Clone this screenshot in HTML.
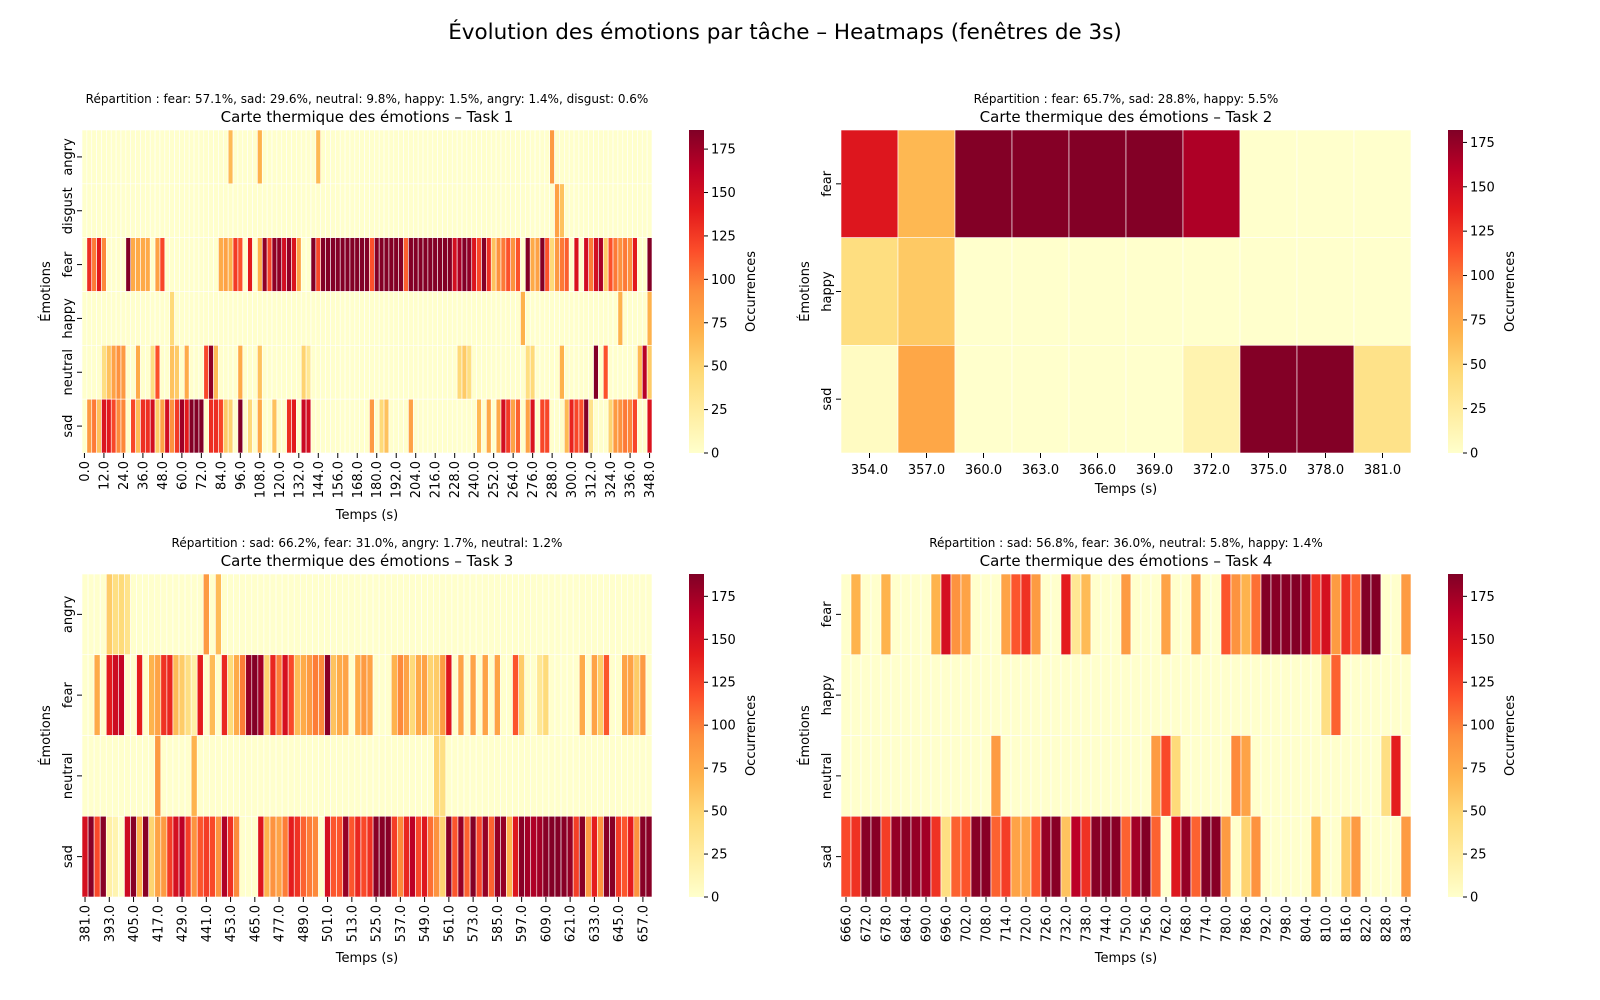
<!DOCTYPE html>
<html><head><meta charset="utf-8">
<style>
html,body{margin:0;padding:0;background:#fff;}
svg{display:block;font-family:"DejaVu Sans","Liberation Sans",sans-serif;}
</style></head>
<body>
<svg id="chart" width="1600" height="1000" viewBox="0 0 1600 1000" xmlns="http://www.w3.org/2000/svg">
<defs>
<linearGradient id="ylorrd" x1="0" y1="1" x2="0" y2="0">
<stop offset="0" stop-color="#ffffcc"/><stop offset="0.125" stop-color="#ffeda0"/><stop offset="0.25" stop-color="#fed976"/><stop offset="0.375" stop-color="#feb24c"/><stop offset="0.5" stop-color="#fd8d3c"/><stop offset="0.625" stop-color="#fc4e2a"/><stop offset="0.75" stop-color="#e31a1c"/><stop offset="0.875" stop-color="#bd0026"/><stop offset="1" stop-color="#800026"/>
</linearGradient>
</defs>
<text x="785" y="39" font-size="21.5" text-anchor="middle" fill="#000">Évolution des émotions par tâche – Heatmaps (fenêtres de 3s)</text>
</svg>
<script>
// ---------- Task 1 data ----------
const t1Rows = ["angry","disgust","fear","happy","neutral","sad"];
const t1Start = 0, t1Count = 117;
const t1Angry = {30:65,36:70,48:65,96:85};
const t1Disgust = {97:80,98:60};
const t1Fear = [0,130,100,140,95,0,0,0,0,185,75,75,75,75,0,80,120,0,0,0,0,0,0,0,0,0,0,0,75,80,70,125,115,0,140,0,70,180,120,180,180,150,180,145,80,0,0,185,120,185,185,185,185,185,185,185,185,185,185,115,185,185,185,185,185,185,110,185,185,185,185,185,185,185,185,185,150,170,185,180,145,120,185,130,60,90,100,115,90,115,0,185,75,80,185,115,45,85,100,110,0,145,0,150,100,150,170,55,115,100,90,100,90,140,0,0,185];
const t1Happy = {18:45,90:70,110:70,116:70};
const t1Neutral = {4:40,5:60,6:80,7:90,8:85,11:75,14:40,15:115,18:60,19:55,21:75,25:120,26:180,27:65,32:75,36:60,45:50,46:30,77:45,78:55,79:40,91:40,92:45,98:70,105:185,107:115,114:65,115:165,116:55};
const t1Sad = [0,85,100,60,145,140,120,95,95,0,120,65,130,130,150,55,80,150,90,125,175,140,185,185,185,0,130,130,120,55,50,0,185,0,45,0,75,0,0,60,0,0,130,140,0,155,150,0,0,0,0,0,0,0,0,0,0,0,0,85,0,45,60,0,0,0,0,80,0,0,0,0,0,0,0,0,0,0,0,0,0,65,0,75,0,75,150,125,80,110,0,80,145,0,120,120,0,0,0,65,135,120,115,185,35,0,0,0,50,85,90,100,95,120,0,0,145];
// ---------- Task 2 data ----------
const t2Rows = ["fear","happy","sad"];
const t2Start = 354, t2Count = 10;
const t2Fear = [140,65,181,180,181,181,165,0,0,0];
const t2Happy = [40,55,0,0,0,0,0,0,0,0];
const t2Sad = [5,75,0,0,0,0,15,181,181,35];
// ---------- Task 3 data ----------
const t3Rows = ["angry","fear","neutral","sad"];
const t3Start = 381, t3Count = 94;
const t3Angry = {4:55,5:40,6:45,7:35,20:85,22:65};
const t3Fear = [0,0,75,0,140,155,160,0,0,140,0,70,80,130,135,65,55,40,20,140,0,65,0,135,45,75,100,180,187,175,50,135,100,150,120,65,75,85,100,95,185,60,75,80,0,75,85,80,0,0,0,70,95,80,45,75,80,50,55,85,145,0,80,0,80,0,80,0,80,0,0,115,55,0,0,30,45,0,0,0,0,0,75,0,80,55,115,0,0,80,80,55,85,0];
const t3Neutral = {12:85,18:70,58:50,59:40};
const t3Sad = [150,185,120,185,20,15,0,155,185,70,185,50,80,85,125,150,165,125,90,115,125,120,90,170,130,95,0,0,0,145,70,90,80,100,140,130,110,100,95,0,150,115,115,180,115,135,120,130,185,185,185,125,95,135,165,120,145,105,90,50,185,115,180,110,187,120,180,110,180,180,70,145,185,175,170,175,185,187,187,185,180,125,185,85,140,90,185,185,125,115,140,90,185,185];
// ---------- Task 4 data ----------
const t4Rows = ["fear","happy","neutral","sad"];
const t4Start = 666, t4Count = 57;
const t4Fear = [0,70,0,0,70,0,0,0,0,70,150,90,80,0,0,0,80,115,130,85,0,0,140,30,65,0,0,0,85,0,0,0,80,0,0,85,0,0,115,90,70,105,187,185,185,187,180,130,150,85,130,110,187,187,0,0,85];
const t4Happy = {48:40,49:110};
const t4Neutral = {15:85,31:85,32:120,33:45,39:95,40:80,54:40,55:140};
const t4Sad = [120,130,185,185,125,180,185,180,175,130,40,110,115,185,185,110,125,80,80,115,180,185,60,165,130,185,185,185,110,175,187,110,0,145,180,110,187,185,85,0,50,90,0,0,0,0,0,70,0,0,55,85,0,0,0,0,85];
</script>
<script>
const NS = "http://www.w3.org/2000/svg";
const svg = document.getElementById("chart");
const STOPS = [[255,255,204],[255,237,160],[254,217,118],[254,178,76],[253,141,60],[252,78,42],[227,26,28],[189,0,38],[128,0,38]];
function cmap(t){
  t=Math.max(0,Math.min(1,t));
  const p=t*8, i=Math.min(7,Math.floor(p)), f=p-i;
  const a=STOPS[i], b=STOPS[i+1];
  return "rgb("+a.map((v,k)=>Math.round(v+(b[k]-v)*f)).join(",")+")";
}
function el(tag, attrs, parent){
  const e=document.createElementNS(NS,tag);
  for(const k in attrs) e.setAttribute(k,attrs[k]);
  (parent||svg).appendChild(e);
  return e;
}
function txt(s, attrs){ const e=el("text",attrs); e.textContent=s; return e; }
function fill(src,n){ if(Array.isArray(src)) return src; const a=[]; for(let i=0;i<n;i++) a.push(src[i]||0); return a; }

function heatmap(o){
  const g=el("g",{});
  
  
  const nR=o.rows.length, nC=o.count;
  const cw=o.w/nC, rh=o.h/nR;
  const xs=c=>o.x+c*cw, ys=r=>o.y+r*rh;
  const vmax=o.vmax;
  o.values.forEach((rowVals,r)=>{
    for(let c=0;c<nC;c++){
      const v=rowVals[c];
      const rc=el("rect",{x:xs(c),y:ys(r),width:cw,height:rh,fill:cmap(v/vmax),stroke:"#fff","stroke-width":0.6},g);
      
      
    }
  });
  o.rows.forEach((lab,r)=>{
    const cy=ys(r)+rh/2;
    el("line",{x1:o.x-5,x2:o.x,y1:cy,y2:cy,stroke:"#000","stroke-width":1});
    const t=txt(lab,{x:0,y:0,"font-size":13,"text-anchor":"middle",transform:`translate(${o.x-10},${cy}) rotate(-90)`});
    
    
  });
  for(let c=0;c<nC;c+=o.every){
    const cx=xs(c)+cw/2;
    el("line",{x1:cx,x2:cx,y1:o.y+o.h,y2:o.y+o.h+5,stroke:"#000","stroke-width":1});
    const lab=(o.start+3*c).toFixed(1);
    let t;
    if(o.rotate){
      t=txt(lab,{x:0,y:0,"font-size":13,"text-anchor":"end",transform:`translate(${cx+4.5},${o.y+o.h+8}) rotate(-90)`});
    } else {
      t=txt(lab,{x:cx,y:o.y+o.h+21,"font-size":13,"text-anchor":"middle"});
    }
    
    
  }
  const xl=txt("Temps (s)",{x:o.x+o.w/2,y:o.xlabelY,"font-size":13,"text-anchor":"middle"});
  
  
  const yl=txt("Émotions",{x:0,y:0,"font-size":13,"text-anchor":"middle",transform:`translate(${o.x-32},${o.y+o.h/2}) rotate(-90)`});
  
  
  const ti=txt(o.title,{x:o.x+o.w/2,y:o.y-8,"font-size":15,"text-anchor":"middle"});
  
  
  const su=txt(o.sub,{x:o.x+o.w/2,y:o.y-27,"font-size":12,"text-anchor":"middle"});
  
  
  const cbx=o.x+o.w+37, cbw=15;
  const cb=el("rect",{x:cbx,y:o.y,width:cbw,height:o.h,fill:"url(#ylorrd)"});
  
  
  for(let v=0;v<=vmax;v+=25){
    const yy=o.y+o.h-(v/vmax)*o.h;
    el("line",{x1:cbx+cbw,x2:cbx+cbw+4,y1:yy,y2:yy,stroke:"#000","stroke-width":1});
    const t=txt(String(v),{x:cbx+cbw+7,y:yy+4.5,"font-size":13});
    
    
  }
  const cl=txt("Occurrences",{x:0,y:0,"font-size":13,"text-anchor":"middle",transform:`translate(${cbx+66},${o.y+o.h/2}) rotate(-90)`});
  
  
}
function maxOf(arrs){ let m=0; arrs.forEach(a=>a.forEach(v=>{if(v>m)m=v;})); return m+1; }

const v1=[fill(t1Angry,t1Count),fill(t1Disgust,t1Count),t1Fear,fill(t1Happy,t1Count),fill(t1Neutral,t1Count),t1Sad];
heatmap({name:"heatmap-task-1",x:82,y:130,w:570,h:323,rows:t1Rows,count:t1Count,start:t1Start,values:v1,vmax:maxOf(v1),every:4,rotate:true,xlabelY:519,
  title:"Carte thermique des émotions – Task 1",sub:"Répartition : fear: 57.1%, sad: 29.6%, neutral: 9.8%, happy: 1.5%, angry: 1.4%, disgust: 0.6%"});
const v2=[t2Fear,t2Happy,t2Sad];
heatmap({name:"heatmap-task-2",x:841,y:130,w:570,h:323,rows:t2Rows,count:t2Count,start:t2Start,values:v2,vmax:maxOf(v2),every:1,rotate:false,xlabelY:493,
  title:"Carte thermique des émotions – Task 2",sub:"Répartition : fear: 65.7%, sad: 28.8%, happy: 5.5%"});
const v3=[fill(t3Angry,t3Count),t3Fear,fill(t3Neutral,t3Count),t3Sad];
heatmap({name:"heatmap-task-3",x:82,y:574,w:570,h:323,rows:t3Rows,count:t3Count,start:t3Start,values:v3,vmax:maxOf(v3),every:4,rotate:true,xlabelY:962,
  title:"Carte thermique des émotions – Task 3",sub:"Répartition : sad: 66.2%, fear: 31.0%, angry: 1.7%, neutral: 1.2%"});
const v4=[t4Fear,fill(t4Happy,t4Count),fill(t4Neutral,t4Count),t4Sad];
heatmap({name:"heatmap-task-4",x:841,y:574,w:570,h:323,rows:t4Rows,count:t4Count,start:t4Start,values:v4,vmax:maxOf(v4),every:2,rotate:true,xlabelY:962,
  title:"Carte thermique des émotions – Task 4",sub:"Répartition : sad: 56.8%, fear: 36.0%, neutral: 5.8%, happy: 1.4%"});
</script>
</body></html>
